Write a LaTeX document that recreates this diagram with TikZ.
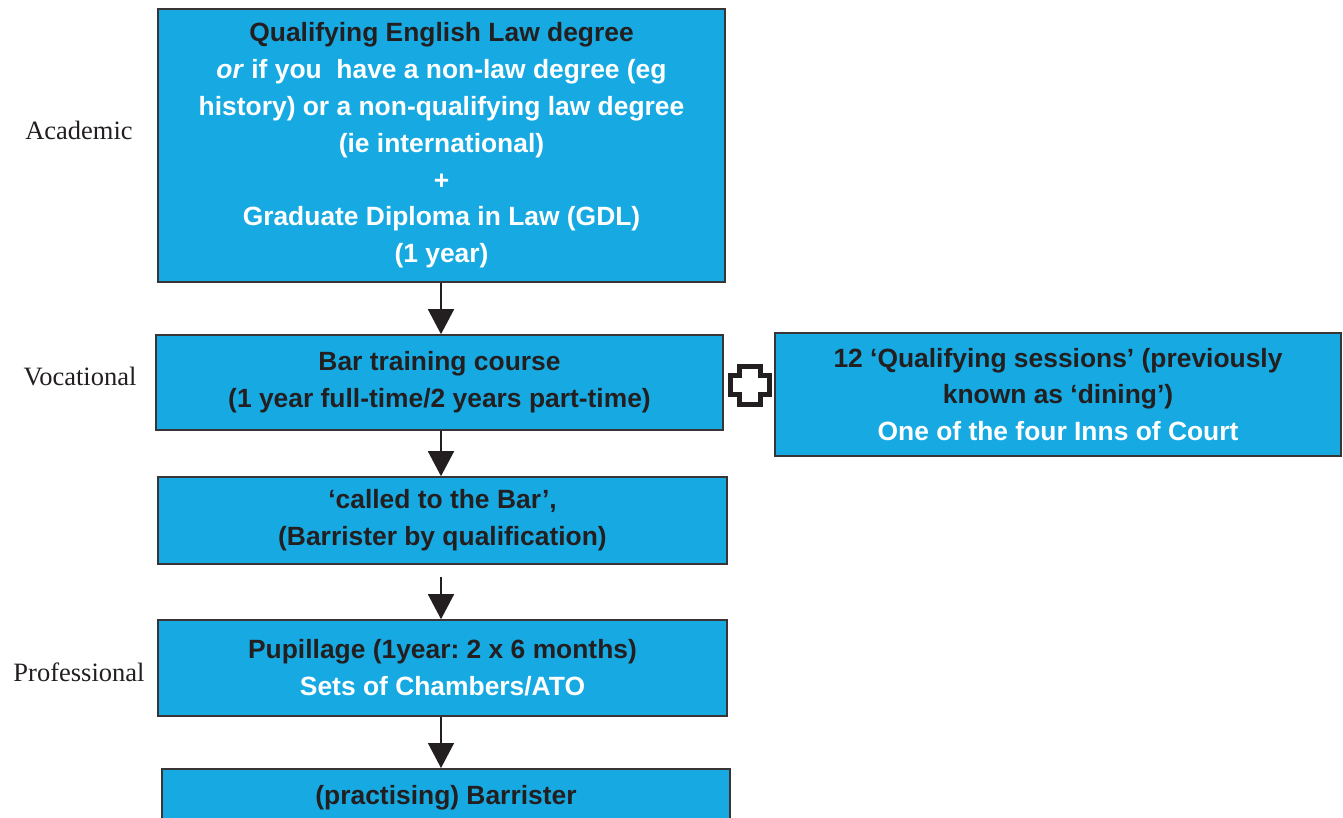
\documentclass[tikz,border=0pt]{standalone}
\usepackage{fontspec}
\newfontfamily\arial{Liberation Sans}
\newfontfamily\labelserif{Liberation Serif}
\usetikzlibrary{arrows.meta}
\definecolor{boxblue}{RGB}{23,170,226}
\definecolor{ink}{RGB}{35,31,32}
\frenchspacing
\tikzset{
  stagebox/.style={draw=ink!90, line width=1.6pt, fill=boxblue, rectangle, inner sep=0pt,
    text=ink, align=center, font=\arial\bfseries\fontsize{26.4}{36.8}\selectfont\frenchspacing},
  stagelabel/.style={text=ink, font=\labelserif\fontsize{26.5}{30}\selectfont},
  flow/.style={draw=ink, line width=1.6pt, -{Triangle[length=25pt,width=26pt]}},
}
\begin{document}
\begin{tikzpicture}[x=1pt,y=-1pt]
\useasboundingbox (0,0) rectangle (1343,818);
\clip (0,0) rectangle (1343,818);
\node[stagebox, minimum width=567, minimum height=273] (acad) at (441.5,145.5)
 {\rule{0pt}{4pt}Qualifying English Law degree\\
  \textcolor{white}{\textit{or} if you\ \ have a non-law degree (eg}\\
  \textcolor{white}{history) or a non-qualifying law degree}\\
  \textcolor{white}{(ie international)}\\
  \textcolor{white}{+}\\
  \textcolor{white}{Graduate Diploma in Law (GDL)}\\
  \textcolor{white}{(1 year)}};
\node[stagebox, minimum width=567, minimum height=95] (btc) at (439.5,382.5)
 {Bar training course\\(1 year full-time/2 years part-time)};
\node[stagebox, minimum width=566, minimum height=123] (qs) at (1058,394.5)
 {12 ‘Qualifying sessions’ (previously\\known as ‘dining’)\\\textcolor{white}{One of the four Inns of Court}};
\node[stagebox, minimum width=569, minimum height=87] (called) at (442.5,520.5)
 {‘called to the Bar’,\\(Barrister by qualification)};
\node[stagebox, minimum width=569, minimum height=96] (pup) at (442.5,668)
 {Pupillage (1year: 2 x 6 months)\\\textcolor{white}{Sets of Chambers/ATO}};
\node[stagebox, minimum width=568, minimum height=58, anchor=north] (bar) at (446,768)
 {(practising) Barrister};
\node[stagelabel] (lacad) at (79,130) {Academic};
\node[stagelabel] (lvoc) at (80,377) {Vocational};
\node[stagelabel] (lprof) at (79,672) {Professional};
\coordinate (ax) at (441,0);
\draw[flow] (acad.south -| ax) -- (btc.north -| ax);
\draw[flow] (btc.south -| ax) -- (called.north -| ax);
\draw[flow] ([yshift=-12pt]called.south -| ax) -- (pup.north -| ax);
\draw[flow] (pup.south -| ax) -- (bar.north -| ax);
% plus sign between the two vocational boxes
\draw[draw=ink, fill=white, line width=5pt, miter limit=10]
  (739.5,366.5) -- (760,366.5) -- (760,375.5) -- (769,375.5) -- (769,394.5)
  -- (760,394.5) -- (760,404) -- (739.5,404) -- (739.5,394.5) -- (730.5,394.5)
  -- (730.5,375.5) -- (739.5,375.5) -- cycle;
\end{tikzpicture}
\end{document}
